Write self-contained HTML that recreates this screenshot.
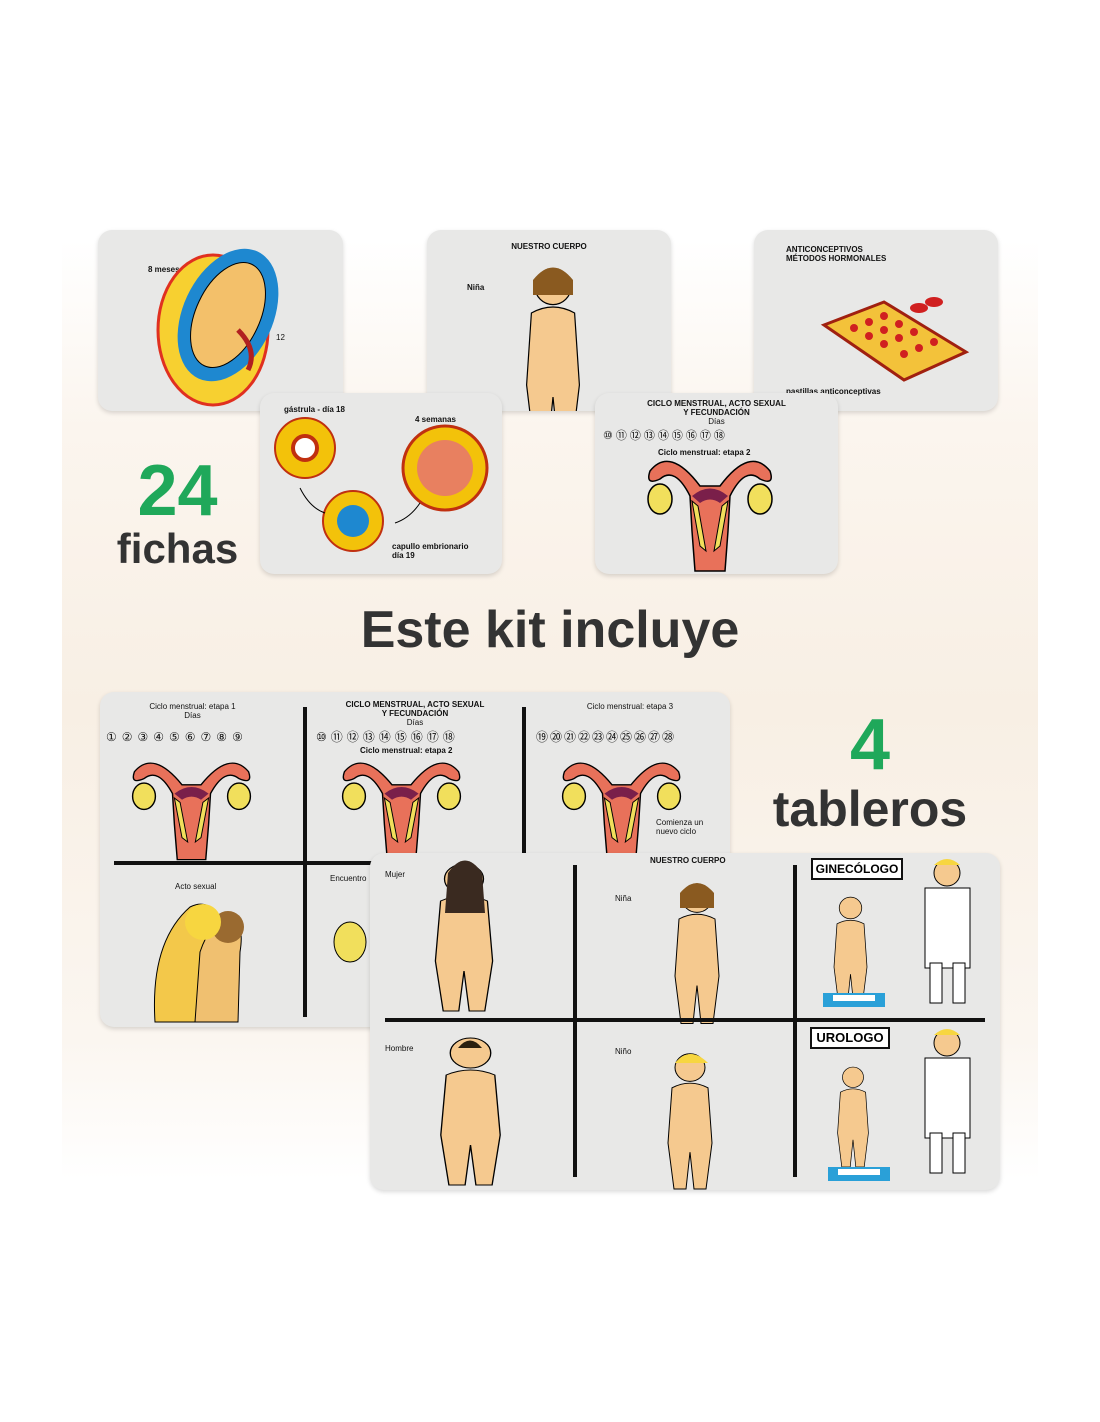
<!DOCTYPE html>
<html><head><meta charset="utf-8"><style>
*{margin:0;padding:0;box-sizing:border-box}
body{width:1100px;height:1422px;background:#fff;position:relative;overflow:hidden;font-family:"Liberation Sans",sans-serif}
.panel{position:absolute;left:62px;top:240px;width:976px;height:940px;background:linear-gradient(#fff 0%,#fbf5ee 20%,#f8efe4 50%,#fbf6f0 85%,#fff 100%)}
.card{position:absolute;background:#e8e8e7;border-radius:14px;box-shadow:0 2px 5px rgba(0,0,0,.15);overflow:hidden}
.t{position:absolute;font-size:8px;font-weight:bold;color:#111;text-align:center;line-height:9px}
.big{position:absolute;font-weight:bold;text-align:center}
svg{position:absolute;left:0;top:0}
.vl{position:absolute;background:#111;width:4px}
.hl{position:absolute;background:#111;height:4px}
</style></head><body>
<div class="panel"></div>
<svg width="0" height="0" style="position:absolute">
<defs>
<g id="ut">
<path d="M10 20 Q30 -5 60 35 L80 35 Q110 -5 130 20 Q135 35 120 28 Q105 15 90 45 L88 80 L85 120 L55 120 L52 80 L50 45 Q35 15 20 28 Q5 35 10 20Z" fill="#e8715a" stroke="#000" stroke-width="1.5"/>
<ellipse cx="20" cy="48" rx="12" ry="15" fill="#f1df5c" stroke="#000" stroke-width="1.5"/>
<ellipse cx="120" cy="48" rx="12" ry="15" fill="#f1df5c" stroke="#000" stroke-width="1.5"/>
<path d="M52 45 Q70 30 88 45 L80 52 Q70 45 60 52Z" fill="#7a1f4a"/>
<path d="M52 50 L60 95 L66 100 L58 55Z M88 50 L80 95 L74 100 L82 55Z" fill="#f1df5c" stroke="#000"/>
</g>
<g id="body">
<circle cx="30" cy="18" r="15" fill="#f5c98f" stroke="#000"/>
<path d="M12 40 Q30 30 48 40 L52 100 L46 150 L34 150 L30 110 L26 150 L14 150 L8 100Z" fill="#f5c98f" stroke="#000"/>
</g>
</defs></svg>

<div class="card" style="left:98px;top:230px;width:245px;height:181px">
<div class="t" style="left:50px;top:35px">8 meses</div>
<svg width="245" height="181"><ellipse cx="115" cy="100" rx="55" ry="75" fill="#f7d030" stroke="#e03020" stroke-width="3"/><ellipse cx="130" cy="85" rx="45" ry="70" fill="#1e88d0" transform="rotate(25 130 85)"/><ellipse cx="130" cy="85" rx="32" ry="56" fill="#f3c06a" stroke="#000" transform="rotate(25 130 85)"/><path d="M140 100 Q160 120 150 140" stroke="#b02020" stroke-width="5" fill="none"/></svg>
<div class="t" style="left:178px;top:103px;font-weight:normal">12</div>
</div>
<div class="card" style="left:427px;top:230px;width:244px;height:181px">
<div class="t" style="left:0;width:244px;top:12px">NUESTRO CUERPO</div>
<div class="t" style="left:40px;top:53px">Niña</div>
<svg width="244" height="181"><g transform="translate(90,35) scale(1.2)"><use href="#body"/></g><path d="M106 50 Q126 25 146 50 L146 65 L106 65Z" fill="#8a5a20"/></svg>
</div>
<div class="card" style="left:754px;top:230px;width:244px;height:181px">
<div class="t" style="left:32px;top:15px;text-align:left">ANTICONCEPTIVOS<br>MÉTODOS HORMONALES</div>
<svg width="244" height="181"><path d="M70 95 L130 72 L212 122 L150 150Z" fill="#f3c23a" stroke="#a02010" stroke-width="3"/><g fill="#d02020"><circle cx="100" cy="98" r="4"/><circle cx="115" cy="92" r="4"/><circle cx="130" cy="86" r="4"/><circle cx="115" cy="106" r="4"/><circle cx="130" cy="100" r="4"/><circle cx="145" cy="94" r="4"/><circle cx="130" cy="114" r="4"/><circle cx="145" cy="108" r="4"/><circle cx="160" cy="102" r="4"/><circle cx="150" cy="124" r="4"/><circle cx="165" cy="118" r="4"/><circle cx="180" cy="112" r="4"/><ellipse cx="165" cy="78" rx="9" ry="5"/><ellipse cx="180" cy="72" rx="9" ry="5"/></g></svg>
<div class="t" style="left:32px;top:157px">pastillas anticonceptivas</div>
</div>
<div class="card" style="left:260px;top:393px;width:242px;height:181px">
<div class="t" style="left:24px;top:12px">gástrula - día 18</div>
<div class="t" style="left:155px;top:22px">4 semanas</div>
<svg width="242" height="181"><circle cx="45" cy="55" r="30" fill="#f3c20a" stroke="#c03010" stroke-width="2"/><circle cx="45" cy="55" r="12" fill="#fff" stroke="#c03010" stroke-width="4"/><circle cx="93" cy="128" r="30" fill="#f3c20a" stroke="#c03010" stroke-width="2"/><circle cx="93" cy="128" r="16" fill="#1e88d0"/><circle cx="185" cy="75" r="42" fill="#f3c20a" stroke="#c03010" stroke-width="3"/><circle cx="185" cy="75" r="28" fill="#e88060"/><path d="M40 95 Q50 115 65 120 M135 130 Q150 125 160 110" stroke="#000" fill="none"/></svg>
<div class="t" style="left:132px;top:149px;text-align:left">capullo embrionario<br>día 19</div>
</div>
<div class="card" style="left:595px;top:393px;width:243px;height:181px">
<div class="t" style="left:0;width:243px;top:6px">CICLO MENSTRUAL, ACTO SEXUAL<br>Y FECUNDACIÓN<br><span style="font-weight:normal">Días</span></div>
<div class="t" style="left:8px;top:39px;font-size:11px;font-weight:normal;letter-spacing:3px">⑩⑪⑫⑬⑭⑮⑯⑰⑱</div>
<div class="t" style="left:63px;top:55px">Ciclo menstrual: etapa 2</div>
<svg width="243" height="181"><g transform="translate(45,58)"><use href="#ut"/></g></svg>
</div>

<div class="big" style="left:100px;top:450px;width:155px;font-size:72px;color:#1fa85a">24</div>
<div class="big" style="left:100px;top:525px;width:155px;font-size:42px;color:#333">fichas</div>
<div class="big" style="left:280px;top:600px;width:540px;font-size:52px;color:#333">Este kit incluye</div>
<div class="big" style="left:820px;top:704px;width:100px;font-size:72px;color:#1fa85a">4</div>
<div class="big" style="left:740px;top:780px;width:260px;font-size:50px;color:#333">tableros</div>

<div class="card" style="left:100px;top:692px;width:630px;height:335px">
<div class="t" style="left:20px;width:145px;top:10px;font-weight:normal">Ciclo menstrual: etapa 1<br>Días</div>
<div class="t" style="left:230px;width:170px;top:8px">CICLO MENSTRUAL, ACTO SEXUAL<br>Y FECUNDACIÓN<br><span style="font-weight:normal">Días</span></div>
<div class="t" style="left:460px;width:140px;top:10px;font-weight:normal">Ciclo menstrual: etapa 3</div>
<div class="t" style="left:6px;top:41px;font-size:12px;font-weight:normal;letter-spacing:5px">①②③④⑤⑥⑦⑧⑨</div>
<div class="t" style="left:216px;top:41px;font-size:12px;font-weight:normal;letter-spacing:4px">⑩⑪⑫⑬⑭⑮⑯⑰⑱</div>
<div class="t" style="left:436px;top:41px;font-size:12px;font-weight:normal;letter-spacing:2px">⑲⑳㉑㉒㉓㉔㉕㉖㉗㉘</div>
<div class="t" style="left:260px;top:54px">Ciclo menstrual: etapa 2</div>
<div class="t" style="left:556px;top:126px;text-align:left;font-weight:normal">Comienza un<br>nuevo ciclo</div>
<div class="t" style="left:75px;top:190px;font-weight:normal">Acto sexual</div>
<div class="t" style="left:230px;top:182px;font-weight:normal">Encuentro</div>
<svg width="630" height="335"><g transform="translate(25,62) scale(0.95,0.88)"><use href="#ut"/></g><g transform="translate(235,62) scale(0.95,0.88)"><use href="#ut"/></g><g transform="translate(455,62) scale(0.95,0.88)"><use href="#ut"/></g>
<path d="M55 330 Q50 250 90 215 Q110 205 120 230 L130 330Z" fill="#f3c84a" stroke="#000"/><path d="M95 330 L100 260 Q110 230 130 225 Q145 230 140 260 L138 330Z" fill="#f0c070" stroke="#000"/><circle cx="128" cy="235" r="16" fill="#9a6a30"/><circle cx="103" cy="230" r="18" fill="#f7d640"/>
<ellipse cx="250" cy="250" rx="16" ry="20" fill="#f1df5c" stroke="#000"/></svg>
<div class="vl" style="left:203px;top:15px;height:310px"></div>
<div class="vl" style="left:422px;top:15px;height:150px"></div>
<div class="hl" style="left:14px;top:169px;height:4px;width:620px"></div>
</div>

<div class="card" style="left:370px;top:853px;width:630px;height:337px">
<div class="t" style="left:280px;top:3px">NUESTRO CUERPO</div>
<div class="t" style="left:15px;top:17px;font-weight:normal">Mujer</div>
<div class="t" style="left:245px;top:41px;font-weight:normal">Niña</div>
<div class="t" style="left:15px;top:191px;font-weight:normal">Hombre</div>
<div class="t" style="left:245px;top:194px;font-weight:normal">Niño</div>
<div style="position:absolute;left:441px;top:5px;width:92px;height:22px;border:2px solid #111;background:#fff;font-size:12px;font-weight:bold;text-align:center;line-height:18px">GINECÓLOGO</div>
<div style="position:absolute;left:440px;top:174px;width:80px;height:22px;border:2px solid #111;background:#fff;font-size:13px;font-weight:bold;text-align:center;line-height:18px">UROLOGO</div>
<svg width="630" height="337">
<g transform="translate(55,8) scale(1.3,1.0)"><use href="#body"/></g><path d="M78 20 Q95 -5 112 20 L115 60 L75 60Z" fill="#3a2a20"/>
<g transform="translate(297,28) scale(1.0,0.95)"><use href="#body"/></g><path d="M310 40 Q327 20 344 40 L344 55 L310 55Z" fill="#8a5a20"/>
<g transform="translate(60,182) scale(1.35,1.0)"><use href="#body"/></g><path d="M88 195 Q100 180 112 195Z" fill="#2a2010"/>
<g transform="translate(290,198) scale(1.0,0.92)"><use href="#body"/></g><path d="M305 210 Q320 192 338 210Z" fill="#f7d640"/>
<g transform="translate(458,42) scale(0.75,0.72)"><use href="#body"/></g><rect x="453" y="140" width="62" height="14" fill="#2aa0d8"/><rect x="463" y="142" width="42" height="6" fill="#fff"/>
<g transform="translate(462,212) scale(0.7,0.68)"><use href="#body"/></g><rect x="458" y="314" width="62" height="14" fill="#2aa0d8"/><rect x="468" y="316" width="42" height="6" fill="#fff"/>
<rect x="555" y="35" width="45" height="80" fill="#fff" stroke="#000"/><circle cx="577" cy="20" r="13" fill="#f5c98f" stroke="#000"/><path d="M564 12 Q577 0 590 12Z" fill="#f7d640"/><rect x="560" y="110" width="12" height="40" fill="#fff" stroke="#000"/><rect x="583" y="110" width="12" height="40" fill="#fff" stroke="#000"/>
<rect x="555" y="205" width="45" height="80" fill="#fff" stroke="#000"/><circle cx="577" cy="190" r="13" fill="#f5c98f" stroke="#000"/><path d="M564 182 Q577 170 590 182Z" fill="#f7d640"/><rect x="560" y="280" width="12" height="40" fill="#fff" stroke="#000"/><rect x="583" y="280" width="12" height="40" fill="#fff" stroke="#000"/>
</svg>
<div class="vl" style="left:203px;top:12px;height:312px"></div>
<div class="vl" style="left:423px;top:12px;height:312px"></div>
<div class="hl" style="left:15px;top:165px;width:600px"></div>
</div>
</body></html>
